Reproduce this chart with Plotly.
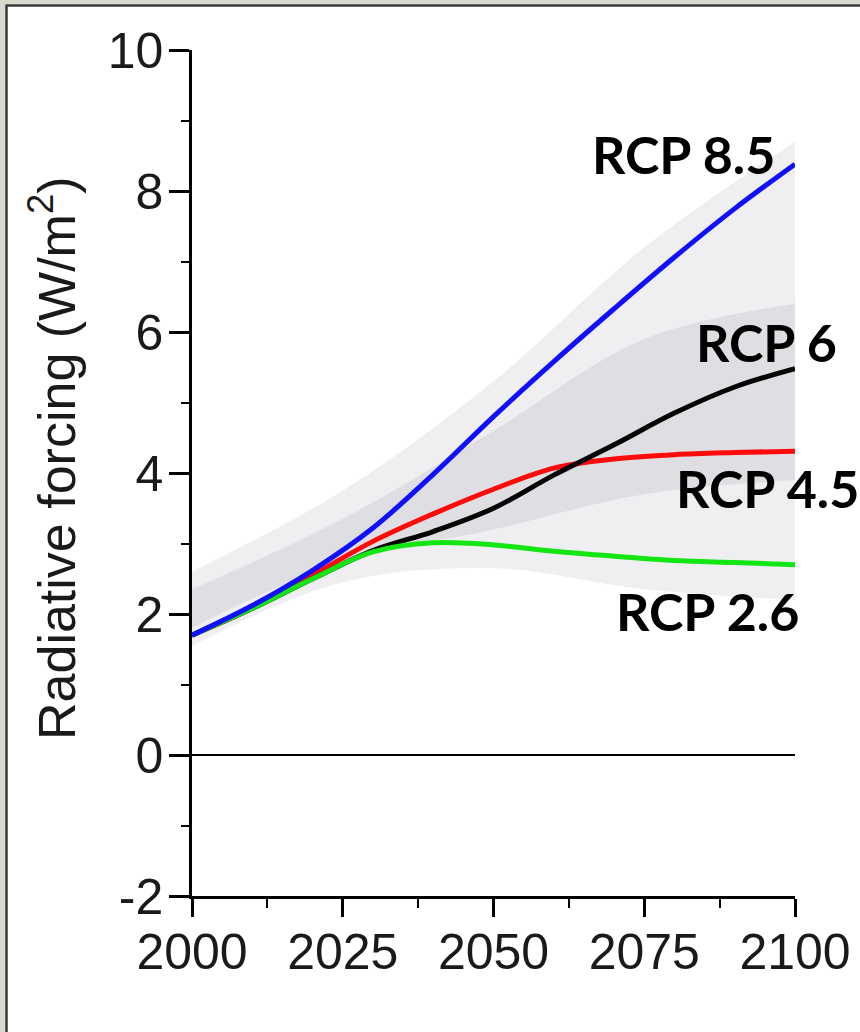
import plotly.graph_objects as go

# ---- data ----
years = [2000, 2010, 2020, 2030, 2040, 2050, 2060, 2070, 2080, 2090, 2100]
rcp85 = [1.70, 2.12, 2.62, 3.22, 3.98, 4.80, 5.58, 6.33, 7.06, 7.75, 8.38]
rcp6 = [1.70, 2.08, 2.50, 2.90, 3.17, 3.50, 3.97, 4.40, 4.85, 5.22, 5.48]
rcp45 = [1.70, 2.08, 2.55, 3.03, 3.42, 3.77, 4.07, 4.20, 4.26, 4.29, 4.31]
rcp26 = [1.70, 2.08, 2.50, 2.88, 3.01, 2.98, 2.89, 2.82, 2.76, 2.73, 2.70]

band_years = [2000, 2025, 2050, 2075, 2100]
band_low = [1.55, 2.45, 2.65, 2.35, 2.20]
band_high = [2.60, 3.75, 5.30, 7.20, 8.70]
core_low = [1.80, 2.75, 3.20, 3.70, 3.90]
core_high = [2.35, 3.35, 4.60, 5.90, 6.40]

series_names = ["RCP 4.5", "RCP 6", "RCP 2.6", "RCP 8.5"]
series_values = [rcp45, rcp6, rcp26, rcp85]
series_colors = ["#ff0a0a", "#050505", "#14e614", "#1010ff"]

label_text = ["RCP 8.5", "RCP 6", "RCP 4.5", "RCP 2.6"]

x_ticks = [2000, 2025, 2050, 2075, 2100]
y_ticks = [-2, 0, 2, 4, 6, 8, 10]

fig = go.Figure()

# uncertainty shading
fig.add_trace(go.Scatter(x=band_years, y=band_low, mode="lines", line=dict(width=0, shape="spline"),
                         showlegend=False, hoverinfo="skip"))
fig.add_trace(go.Scatter(x=band_years, y=band_high, mode="lines", line=dict(width=0, shape="spline"),
                         fill="tonexty", fillcolor="rgba(205,205,210,0.32)", showlegend=False, hoverinfo="skip"))
fig.add_trace(go.Scatter(x=band_years, y=core_low, mode="lines", line=dict(width=0, shape="spline"),
                         showlegend=False, hoverinfo="skip"))
fig.add_trace(go.Scatter(x=band_years, y=core_high, mode="lines", line=dict(width=0, shape="spline"),
                         fill="tonexty", fillcolor="rgba(190,190,198,0.32)", showlegend=False, hoverinfo="skip"))

for name, vals, col in zip(series_names, series_values, series_colors):
    fig.add_trace(go.Scatter(x=years, y=vals, mode="lines", name=name,
                             line=dict(color=col, width=5, shape="spline", smoothing=1.0),
                             showlegend=False))

# plot area pixel geometry
L, R, T, B = 192, 795, 50, 896
W, H = 860, 1032
pw, ph = R - L, B - T


def px(x):
    return (x - L) / pw


def py(y):
    return (B - y) / ph


label_pos = [(683, 154), (766, 342), (767, 488), (707, 611)]
for txt, (xx, yy) in zip(label_text, label_pos):
    fig.add_annotation(x=px(xx), y=py(yy), xref="paper", yref="paper", text=txt, showarrow=False,
                       xanchor="center", yanchor="middle",
                       font=dict(family="Lato", size=52, color="#000000", weight="bold"))

# y-axis title
fig.add_annotation(x=px(53), y=py(458), xref="paper", yref="paper",
                   text="Radiative forcing (W/m<sup>2</sup>)", showarrow=False, textangle=-90,
                   xanchor="center", yanchor="middle",
                   font=dict(family="Liberation Sans", size=52, color="#1a1a1a"))

# window-like frame at top/left
frame_fill = "#d9d9cf"
fig.add_shape(type="rect", xref="paper", yref="paper", x0=px(0), x1=px(5.5), y0=py(W + 200), y1=py(0),
              fillcolor=frame_fill, line=dict(width=0), layer="above")
fig.add_shape(type="rect", xref="paper", yref="paper", x0=px(0), x1=px(W), y0=py(4.5), y1=py(0),
              fillcolor=frame_fill, line=dict(width=0), layer="above")
fig.add_shape(type="line", xref="paper", yref="paper", x0=px(6.5), x1=px(6.5), y0=py(H), y1=py(5.5),
              line=dict(color="#3a3a3a", width=2.5), layer="above")
fig.add_shape(type="line", xref="paper", yref="paper", x0=px(5.5), x1=px(W), y0=py(5.5), y1=py(5.5),
              line=dict(color="#3a3a3a", width=2.5), layer="above")

tickfont = dict(family="Liberation Sans", size=50, color="#1a1a1a")

fig.update_xaxes(range=[2000, 2100], tickvals=x_ticks, ticktext=[str(v) for v in x_ticks],
                 showgrid=False, zeroline=False, showline=True, linecolor="#000", linewidth=2.5,
                 ticks="outside", ticklen=18, tickwidth=2.5, tickcolor="#000",
                 minor=dict(tickvals=[2012.5, 2037.5, 2062.5, 2087.5], ticks="outside", ticklen=9,
                            tickwidth=2, tickcolor="#000", showgrid=False),
                 tickfont=tickfont, ticklabelstandoff=-8)
fig.update_yaxes(range=[-2, 10], tickvals=y_ticks, ticktext=[str(v) for v in y_ticks],
                 showgrid=False, zeroline=True, zerolinecolor="#000", zerolinewidth=2.2,
                 showline=True, linecolor="#000", linewidth=2.5,
                 ticks="outside", ticklen=20, tickwidth=2.5, tickcolor="#000",
                 minor=dict(tickvals=[-1, 1, 3, 5, 7, 9], ticks="outside", ticklen=8,
                            tickwidth=2, tickcolor="#000", showgrid=False),
                 tickfont=tickfont, ticklabelstandoff=-4)

fig.update_layout(width=W, height=H, margin=dict(l=L, r=W - R, t=T, b=H - B, autoexpand=False),
                  paper_bgcolor="#ffffff", plot_bgcolor="#ffffff", showlegend=False)

fig.write_html("out.html")
